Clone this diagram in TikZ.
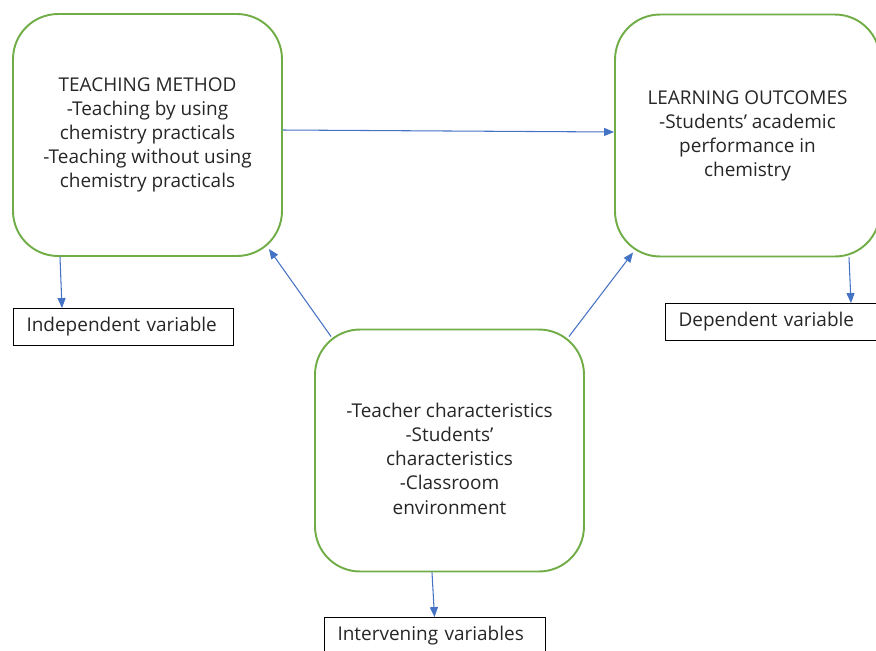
\documentclass[tikz,border=0pt]{standalone}
\usepackage{fontspec}
\setmainfont{Open Sans}
\usepackage{xcolor}
\usepackage{tikz}
\usetikzlibrary{arrows.meta}
\definecolor{G0}{HTML}{70ad47}
\definecolor{B0}{HTML}{4472c4}
\definecolor{T0}{HTML}{262626}

\begin{document}
\begin{tikzpicture}[x=0.02cm, y=-0.02cm,
  varbox/.style={draw=G0, line width=1.1pt, rounded corners=0.9cm, minimum width=5.38cm, minimum height=4.84cm, align=center, text=T0, font=\fontsize{10.8}{13.7}\selectfont},
  tagbox/.style={draw, line width=0.5pt, inner xsep=0.27cm, minimum height=0.74cm, align=left, text=T0, font=\fontsize{10.8}{12}\selectfont},
  link/.style={draw=B0, line width=0.6pt, -{Triangle[length=0.2cm, width=0.16cm]}}]%
\useasboundingbox (0,0) rectangle (876,650);%
\node[varbox] (teach) at (147.5,135) {TEACHING METHOD\\-Teaching by using\\chemistry practicals\\-Teaching without using\\chemistry practicals};%
\node[varbox, minimum width=5.3cm] (learn) at (747.5,135.5) {LEARNING OUTCOMES\\-Students' academic\\performance in\\chemistry};%
\node[varbox] (inter) at (449.5,450.5) {\rule{0pt}{0.62cm}-Teacher characteristics\\-Students'\\characteristics\\-Classroom\\environment};%
\node[tagbox, text width=3.86cm] (indep) at (123,327) {\mbox{Independent variable}};%
\node[tagbox, text width=3.76cm] (dep) at (772.5,322) {\mbox{Dependent variable}};%
\node[tagbox, text width=3.88cm] (ivar) at (434.5,636) {\mbox{Intervening variables}};%
\draw[link] ([shift={(0,-5)}]teach.east) -- ([shift={(0,-3.5)}]learn.west);%
\draw[link] ([shift={(-87.5,0)}]teach.south) -- ([shift={(-61,0)}]indep.north);%
\draw[link] ([shift={(101.5,0)}]learn.south) -- ([shift={(78.5,0)}]dep.north);%
\draw[link] ([shift={(17,8)}]inter.north west) -- ([shift={(-14,-8)}]teach.south east);%
\draw[link] ([shift={(-16,8)}]inter.north east) -- ([shift={(19,-5)}]learn.south west);%
\draw[link] ([shift={(-17.5,0)}]inter.south) -- (ivar.north);%
\end{tikzpicture}
\end{document}
